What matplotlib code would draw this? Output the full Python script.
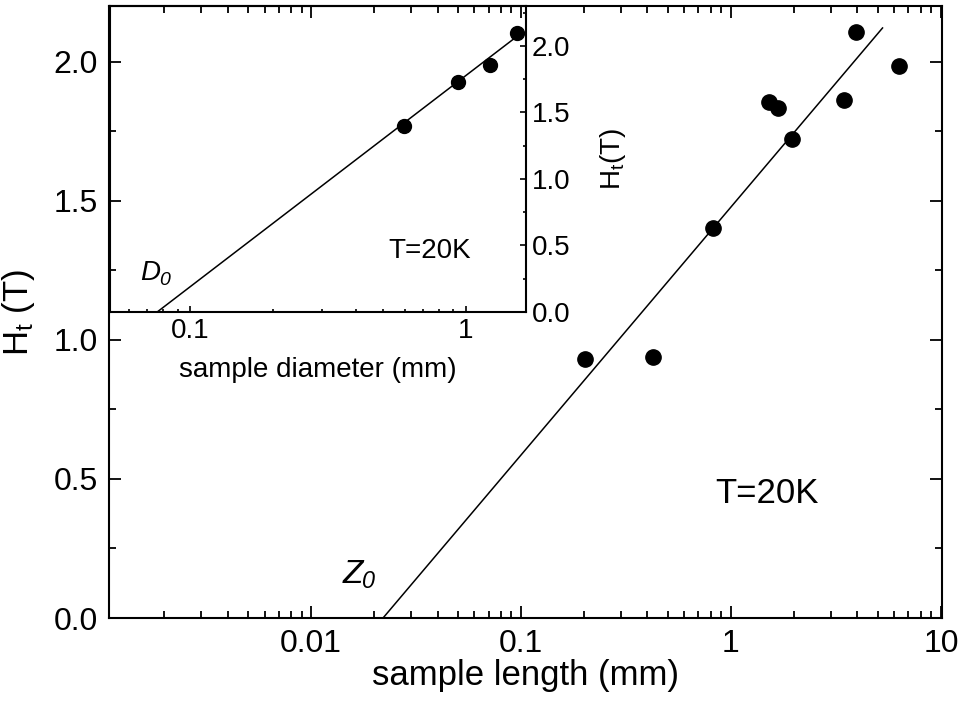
import numpy as np
import matplotlib
matplotlib.use("Agg")
import matplotlib.pyplot as plt
from matplotlib.ticker import FixedLocator, LogLocator, MultipleLocator, FuncFormatter, NullFormatter

plt.rcParams['font.family'] = ['Liberation Sans', 'DejaVu Sans']
plt.rcParams['mathtext.fontset'] = 'custom'
plt.rcParams['mathtext.rm'] = 'Liberation Sans'
plt.rcParams['mathtext.it'] = 'Liberation Sans:italic'

# main panel: threshold field vs sample length
length_mm = [0.202, 0.424, 0.823, 1.51, 1.67, 1.96, 3.45, 3.96, 6.31]
Ht_length = [0.932, 0.940, 1.402, 1.854, 1.833, 1.723, 1.863, 2.107, 1.983]
length_fit = [0.022, 5.27]
Ht_length_fit = [0.0, 2.121]

# inset: threshold field vs sample diameter
diam_mm = [0.595, 0.935, 1.22, 1.53]
Ht_diam = [1.40, 1.725, 1.86, 2.10]
diam_fit = [0.0759, 1.495]
Ht_diam_fit = [0.0, 2.055]

main_xticks = [0.01, 0.1, 1, 10]
main_xticklabels = ["0.01", "0.1", "1", "10"]
inset_xticks = [0.1, 1]
inset_xticklabels = ["0.1", "1"]


def italic_sub(axis, x, y, letter, sub, size):
    # italic letter with italic subscript (mathtext keeps digits upright)
    t = axis.text(x, y, letter, fontsize=size, style='italic', ha='left', va='baseline')
    axis.annotate(sub, xy=(1.0, 0.0), xycoords=t, xytext=(-0.5, -2), textcoords='offset points',
                  fontsize=size * 0.7, style='italic', ha='left', va='bottom')


fig = plt.figure(figsize=(9.65, 7.13), dpi=100)
ax = fig.add_axes([0.113, 0.1332, 0.863, 0.8584])

ax.plot(length_mm, Ht_length, 'o', color='black', markersize=11)
ax.plot(length_fit, Ht_length_fit, '-', color='black', lw=1.1)
ax.set_xscale('log')
ax.set_xlim(0.00109, 10.1)
ax.set_ylim(0, 2.2)

ax.xaxis.set_major_locator(FixedLocator(main_xticks))
ax.xaxis.set_major_formatter(FuncFormatter(lambda v, p: dict(zip(main_xticks, main_xticklabels)).get(v, "")))
ax.xaxis.set_minor_locator(LogLocator(base=10, subs=np.arange(2, 10)))
ax.xaxis.set_minor_formatter(NullFormatter())
ax.yaxis.set_major_locator(MultipleLocator(0.5))
ax.yaxis.set_minor_locator(MultipleLocator(0.25))
ax.yaxis.set_major_formatter(FuncFormatter(lambda v, p: "%.1f" % v))

ax.tick_params(which='both', direction='in', top=True, right=True, width=1.3, labelsize=23)
ax.tick_params(which='major', length=8.5, pad=8)
ax.tick_params(which='minor', length=5)
for s in ax.spines.values():
    s.set_linewidth(1.5)

ax.set_xlabel("sample length (mm)", fontsize=25, labelpad=0)
ax.set_ylabel(r"H$_{\mathrm{t}}$ (T)", fontsize=25, labelpad=12)
ax.text(0.84, 0.414, "T=20K", fontsize=25, ha='left', va='baseline')
italic_sub(ax, 0.01406, 0.126, "Z", "0", 24)

# inset
ins = fig.add_axes([0.114, 0.5624, 0.431, 0.4292])
ins.patch.set_alpha(0)
ins.plot(diam_mm, Ht_diam, 'o', color='black', markersize=10)
ins.plot(diam_fit, Ht_diam_fit, '-', color='black', lw=1.1)
ins.set_xscale('log')
ins.set_xlim(0.0512, 1.65)
ins.set_ylim(0, 2.3)

ins.xaxis.set_major_locator(FixedLocator(inset_xticks))
ins.xaxis.set_major_formatter(FuncFormatter(lambda v, p: dict(zip(inset_xticks, inset_xticklabels)).get(v, "")))
ins.xaxis.set_minor_locator(LogLocator(base=10, subs=np.arange(2, 10)))
ins.xaxis.set_minor_formatter(NullFormatter())
ins.yaxis.set_major_locator(MultipleLocator(0.5))
ins.yaxis.set_minor_locator(MultipleLocator(0.25))
ins.yaxis.set_major_formatter(FuncFormatter(lambda v, p: "%.1f" % v))
ins.yaxis.tick_right()
ins.yaxis.set_label_position('right')

ins.tick_params(which='both', direction='in', width=1.2, labelsize=20)
ins.tick_params(which='major', length=4.5, pad=4)
ins.tick_params(which='minor', length=2.5)
for s in ins.spines.values():
    s.set_linewidth(1.5)

ins.set_xlabel("sample diameter (mm)", fontsize=20, labelpad=10)
ins.set_ylabel(r"H$_{\mathrm{t}}$(T)", fontsize=20, labelpad=20)
ins.text(0.525, 0.405, "T=20K", fontsize=20, ha='left', va='baseline')
italic_sub(ins, 0.0658, 0.24, "D", "0", 20)

fig.savefig("out.png", dpi=100)
